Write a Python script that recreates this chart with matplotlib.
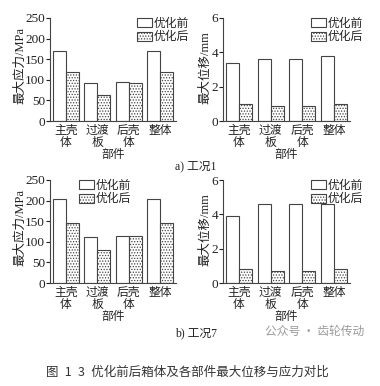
import matplotlib
matplotlib.use("Agg")
import matplotlib.pyplot as plt
import numpy as np

plt.rcParams['font.family'] = ['Liberation Serif', 'Noto Sans CJK SC', 'DejaVu Sans']
plt.rcParams['hatch.linewidth'] = 0.6
plt.rcParams['hatch.color'] = '#555555'

categories = ["主壳\n体", "过渡\n板", "后壳\n体", "整体"]
series_names = ["优化前", "优化后"]

stress1_before = [170, 92, 95, 170]
stress1_after = [120, 64, 93, 120]
disp1_before = [3.4, 3.6, 3.6, 3.8]
disp1_after = [1.0, 0.86, 0.9, 1.0]

stress7_before = [205, 112, 113, 205]
stress7_after = [145, 79, 113, 145]
disp7_before = [3.9, 4.6, 4.6, 4.6]
disp7_after = [0.8, 0.67, 0.7, 0.8]

W, H = 380, 386
fig = plt.figure(figsize=(W / 100, H / 100), dpi=100)

def px_axes(l, t, r, b):
    return fig.add_axes([l / W, 1 - b / H, (r - l) / W, (b - t) / H])

FS = 8.5
TXT = '#222222'
EDGE = '#444444'

def panel(ax, before, after, ylim, yticks, ylabel, leg_x, lab_x, lab_y):
    x = np.arange(len(categories))
    w = 0.41
    ax.bar(x - w / 2, before, w, facecolor='white', edgecolor=EDGE, linewidth=0.8, label=series_names[0])
    ax.bar(x + w / 2, after, w, facecolor='white', edgecolor=EDGE, linewidth=0.8, hatch='......', label=series_names[1])
    ax.set_xlim(-0.5, 3.5)
    ax.set_ylim(*ylim)
    ax.set_yticks(yticks)
    ax.set_xticks(x)
    ax.set_xticklabels(categories, fontsize=FS, color=TXT, linespacing=1.0)
    ax.tick_params(axis='x', length=0, pad=3)
    ax.tick_params(axis='y', length=3, width=0.8, labelsize=FS + 1, colors=TXT, pad=0.5)
    for s in ['top', 'right']:
        ax.spines[s].set_visible(False)
    for s in ['left', 'bottom']:
        ax.spines[s].set_linewidth(0.8)
        ax.spines[s].set_color(EDGE)
    ax.set_ylabel(ylabel, fontsize=FS + 0.5, color=TXT)
    ax.yaxis.label.set_va('center')
    ax.yaxis.set_label_coords(lab_x, lab_y)
    ax.set_xlabel("部件", fontsize=FS, color=TXT, labelpad=0)
    ax.legend(loc='upper left', bbox_to_anchor=(leg_x, 1.0), frameon=False,
              fontsize=FS, borderpad=0, handlelength=1.3, handleheight=0.8,
              handletextpad=0.1, labelspacing=0.1, borderaxespad=0,
              labelcolor=TXT)

ax1 = px_axes(50, 18, 176, 121)
panel(ax1, stress1_before, stress1_after, (0, 250), [0, 50, 100, 150, 200, 250],
      "最大应力/MPa", 0.69, -0.238, 0.54)
ax2 = px_axes(223, 18, 350, 121)
panel(ax2, disp1_before, disp1_after, (0, 6), [0, 2, 4, 6],
      "最大位移/mm", 0.69, -0.142, 0.52)
ax3 = px_axes(50, 180, 176, 283)
panel(ax3, stress7_before, stress7_after, (0, 250), [0, 50, 100, 150, 200, 250],
      "最大应力/MPa", 0.23, -0.238, 0.54)
ax4 = px_axes(223, 180, 350, 283)
panel(ax4, disp7_before, disp7_after, (0, 6), [0, 2, 4, 6],
      "最大位移/mm", 0.69, -0.142, 0.52)

fig.text(196 / W, 1 - 166 / H, "a) 工况1", fontsize=FS, color=TXT, ha='center', va='center')
fig.text(196 / W, 1 - 333 / H, "b) 工况7", fontsize=FS, color=TXT, ha='center', va='center')
fig.text(315 / W, 1 - 331 / H, "公众号 · 齿轮传动", fontsize=FS, color='#9a9a9a',
         ha='center', va='center', family=['Noto Sans CJK SC', 'DejaVu Sans'])
fig.text(187 / W, 1 - 372 / H, "图\u20021\u20023\u2002优化前后箱体及各部件最大位移与应力对比", fontsize=9,
         color='#333333', ha='center', va='center', family=['Noto Sans CJK SC', 'DejaVu Sans'])

fig.savefig("out.png", dpi=100)
